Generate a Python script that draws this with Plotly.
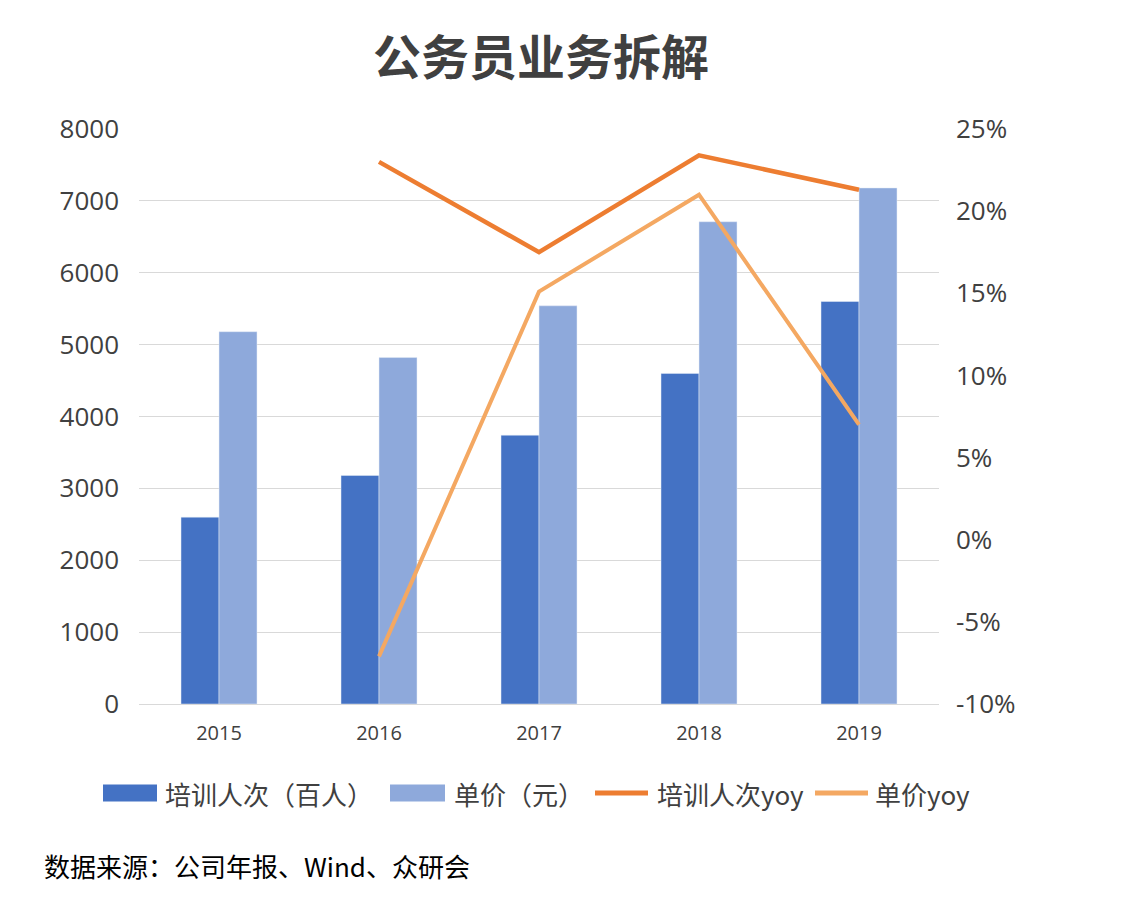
import plotly.graph_objects as go

years = ["2015", "2016", "2017", "2018", "2019"]
trainees = [2600, 3180, 3740, 4600, 5600]          # 培训人次（百人）
unit_price = [5180, 4820, 5540, 6710, 7180]        # 单价（元）
trainees_yoy = [None, 23.0, 17.5, 23.4, 21.3]      # 培训人次yoy (%)
price_yoy = [None, -7.1, 15.1, 21.0, 7.0]          # 单价yoy (%)

y2_ticks = [-10, -5, 0, 5, 10, 15, 20, 25]
y2_labels = ["-10%", "-5%", "0%", "5%", "10%", "15%", "20%", "25%"]

series_names = ["培训人次（百人）", "单价（元）", "培训人次yoy", "单价yoy"]
colors = ["#4472C4", "#8EA9DB", "#ED7D31", "#F4A862"]

font_main = "Open Sans, Noto Sans CJK SC, sans-serif"
cjk = "Noto Sans CJK SC, sans-serif"

# page body has an 8px margin; the figure is sized to fit inside the window
W, H = 1114, 912
L, T, R, B = 131, 121, 183, 216
PW, PH = W - L - R, H - T - B


def px_x(x):  # page pixel -> paper x
    return (x - 8 - L) / PW


def px_y(y):  # page pixel -> paper y
    return (H - B + 8 - y) / PH


fig = go.Figure()
fig.add_trace(go.Bar(x=years, y=trainees, name=series_names[0], marker_color=colors[0]))
fig.add_trace(go.Bar(x=years, y=unit_price, name=series_names[1], marker_color=colors[1]))
fig.add_trace(go.Scatter(x=years, y=trainees_yoy, name=series_names[2], mode="lines",
                         line=dict(color=colors[2], width=4.5), yaxis="y2"))
fig.add_trace(go.Scatter(x=years, y=price_yoy, name=series_names[3], mode="lines",
                         line=dict(color=colors[3], width=4), yaxis="y2"))

fig.update_layout(
    width=W, height=H,
    paper_bgcolor="#FFFFFF", plot_bgcolor="#FFFFFF",
    margin=dict(l=L, r=R, t=T, b=B, autoexpand=False),
    barmode="group", bargap=0.525, bargroupgap=0,
    showlegend=False,
    title=dict(text="<b>公务员业务拆解</b>", x=533 / W, xanchor="center", y=1 - 50 / H, yanchor="middle",
               font=dict(family=cjk, size=48, color="#404040")),
    xaxis=dict(showgrid=False, showline=True, linecolor="#D9D9D9", linewidth=1,
               tickfont=dict(family=font_main, size=20, color="#404040"), ticks="",
               ticklabelstandoff=11),
    yaxis=dict(range=[0, 8000], dtick=1000, showgrid=True, gridcolor="#D9D9D9", gridwidth=1,
               zeroline=False, tickfont=dict(family=font_main, size=26, color="#404040"),
               ticklabelstandoff=19),
    yaxis2=dict(range=[-10, 25], tickvals=y2_ticks, ticktext=y2_labels, overlaying="y", side="right",
                showgrid=False, zeroline=False, ticklabelstandoff=16,
                tickfont=dict(family=font_main, size=26, color="#404040")),
)

# custom legend (wide swatches, as in the reference)
leg_y = 793
swatch_x = [(103, 157), (390, 445), (595, 648), (815, 868)]
text_x = [163, 452, 655, 873]
for i, name in enumerate(series_names):
    x0, x1 = swatch_x[i]
    if i < 2:
        fig.add_shape(type="rect", xref="paper", yref="paper",
                      x0=px_x(x0), x1=px_x(x1), y0=px_y(leg_y + 8.5), y1=px_y(leg_y - 8.5),
                      fillcolor=colors[i], line=dict(width=0))
    else:
        fig.add_shape(type="line", xref="paper", yref="paper",
                      x0=px_x(x0), x1=px_x(x1), y0=px_y(leg_y), y1=px_y(leg_y),
                      line=dict(color=colors[i], width=5))
    fig.add_annotation(text=name, xref="paper", yref="paper", x=px_x(text_x[i]), xanchor="left",
                       y=px_y(leg_y), yanchor="middle", showarrow=False,
                       font=dict(family=cjk, size=26, color="#404040"))

fig.add_annotation(text="数据来源：公司年报、Wind、众研会", xref="paper", yref="paper",
                   x=px_x(42), xanchor="left", y=px_y(866), yanchor="middle",
                   showarrow=False, font=dict(family=cjk, size=26, color="#000000"))

fig.write_html("out.html")
